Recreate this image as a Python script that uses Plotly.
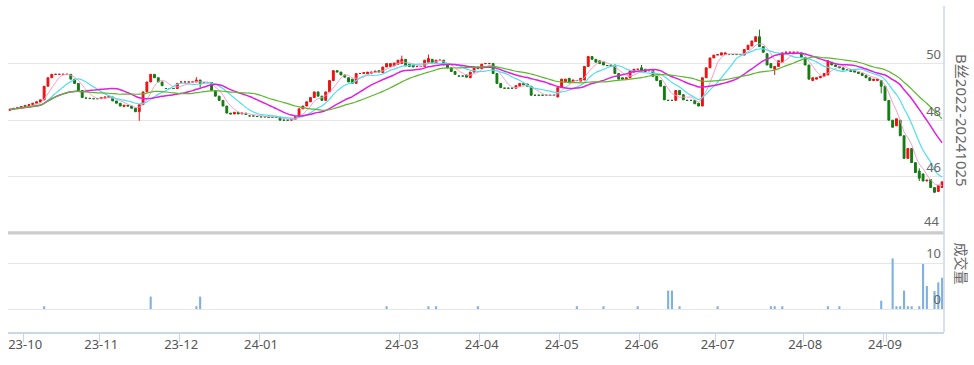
import pandas as pd
import plotly.graph_objects as go

# ---------------- data ----------------
months = ["2023-09", "2023-10", "2023-11", "2023-12", "2024-01", "2024-02", "2024-03",
          "2024-04", "2024-05", "2024-06", "2024-07", "2024-08", "2024-09"]
month_counts = [4, 20, 21, 21, 22, 15, 21, 21, 21, 20, 23, 21, 16]
tick_months = ["2023-10", "2023-11", "2023-12", "2024-01", "2024-03", "2024-04",
               "2024-05", "2024-06", "2024-07", "2024-08", "2024-09"]
tick_labels = ["23-10", "23-11", "23-12", "24-01", "24-03", "24-04",
               "24-05", "24-06", "24-07", "24-08", "24-09"]
price_ticks = [44, 46, 48, 50, 52]
price_tick_text = ["44", "46", "48", "50", ""]
volume_ticks = [0, 10, 20]
volume_tick_text = ["0", "10", ""]

opens = [
    48.35, 48.38, 48.40, 48.45, 48.47, 48.52, 48.55, 48.60, 48.64, 48.72,
    49.20, 49.50, 49.62, 49.62, 49.62, 49.62, 49.62, 49.45, 49.30, 49.05,
    48.78, 48.77, 48.76, 48.76, 48.76, 48.78, 48.80, 48.82, 48.68, 48.60,
    48.48, 48.53, 48.50, 48.42, 48.30, 48.55, 49.00, 49.35, 49.62, 49.50,
    49.35, 49.12, 49.12, 49.12, 49.12, 49.35, 49.35, 49.35, 49.35, 49.35,
    49.42, 49.33, 49.33, 49.33, 49.05, 48.85, 48.70, 48.50, 48.25, 48.22,
    48.28, 48.22, 48.25, 48.15, 48.15, 48.13, 48.12, 48.12, 48.10, 48.10,
    48.10, 48.10, 48.00, 48.00, 48.00, 48.03, 48.12, 48.40, 48.50, 48.65,
    48.80, 49.00, 48.85, 48.70, 49.00, 49.40, 49.75, 49.70, 49.60, 49.50,
    49.45, 49.30, 49.65, 49.65, 49.64, 49.66, 49.70, 49.75, 49.68, 49.88,
    49.90, 49.92, 49.98, 50.00, 50.15, 49.98, 49.95, 49.90, 49.90, 49.90,
    50.05, 50.15, 50.02, 50.12, 50.12, 49.98, 49.85, 49.72, 49.56, 49.56,
    49.60, 49.50, 49.70, 49.88, 49.82, 50.00, 50.00, 50.00, 49.65, 49.30,
    49.13, 49.13, 49.13, 49.13, 49.20, 49.30, 49.28, 49.20, 48.88, 48.88,
    48.88, 48.88, 48.88, 48.88, 48.82, 49.15, 49.35, 49.48, 49.35, 49.40,
    49.38, 49.42, 49.90, 50.25, 50.15, 50.10, 50.05, 49.93, 49.95, 49.95,
    49.65, 49.50, 49.45, 49.50, 49.70, 49.80, 49.85, 49.80, 49.75, 49.75,
    49.55, 49.40, 49.20, 48.70, 48.70, 48.70, 49.05, 48.90, 48.70, 48.70,
    48.70, 48.60, 48.50, 49.50, 49.85, 50.20, 50.30, 50.30, 50.32, 50.32,
    50.32, 50.32, 50.32, 50.30, 50.50, 50.62, 50.78, 50.95, 50.60, 50.35,
    50.00, 49.80, 49.90, 50.05, 50.40, 50.40, 50.40, 50.40, 50.38, 50.22,
    49.95, 49.40, 49.45, 49.50, 49.55, 49.60, 50.05, 49.95, 49.90, 49.85,
    49.77, 49.78, 49.75, 49.70, 49.65, 49.58, 49.50, 49.40, 49.40, 49.40,
    49.20, 48.70, 48.00, 47.80, 48.00, 47.45, 46.65, 47.00, 46.50, 46.20,
    46.10, 45.85, 45.90, 45.62, 45.48, 45.62,
]
closes = [
    48.38, 48.42, 48.45, 48.48, 48.52, 48.55, 48.60, 48.65, 48.72, 49.20,
    49.50, 49.62, 49.62, 49.62, 49.62, 49.62, 49.45, 49.30, 49.05, 48.80,
    48.78, 48.77, 48.76, 48.76, 48.80, 48.82, 48.84, 48.68, 48.60, 48.50,
    48.53, 48.50, 48.42, 48.30, 48.55, 49.00, 49.35, 49.62, 49.50, 49.35,
    49.22, 49.12, 49.12, 49.12, 49.30, 49.35, 49.35, 49.35, 49.35, 49.42,
    49.30, 49.33, 49.33, 49.05, 48.85, 48.70, 48.50, 48.25, 48.22, 48.28,
    48.22, 48.25, 48.20, 48.15, 48.15, 48.13, 48.12, 48.12, 48.10, 48.10,
    48.10, 48.00, 48.00, 48.00, 48.03, 48.12, 48.40, 48.50, 48.65, 48.80,
    49.00, 48.85, 48.70, 49.00, 49.40, 49.75, 49.70, 49.60, 49.52, 49.35,
    49.30, 49.65, 49.65, 49.68, 49.70, 49.70, 49.73, 49.70, 49.88, 50.00,
    50.00, 50.02, 50.12, 50.15, 49.92, 49.90, 49.88, 49.90, 49.90, 50.12,
    50.18, 50.00, 50.12, 50.12, 49.95, 49.85, 49.72, 49.62, 49.56, 49.56,
    49.52, 49.70, 49.88, 49.82, 49.98, 50.00, 50.00, 49.65, 49.30, 49.15,
    49.13, 49.13, 49.13, 49.22, 49.30, 49.25, 49.20, 48.88, 48.88, 48.88,
    48.88, 48.88, 48.88, 48.88, 49.15, 49.45, 49.45, 49.32, 49.42, 49.40,
    49.48, 49.90, 50.25, 50.15, 50.05, 50.00, 49.95, 49.93, 49.90, 49.65,
    49.45, 49.45, 49.50, 49.75, 49.80, 49.80, 49.75, 49.72, 49.75, 49.55,
    49.40, 49.20, 48.72, 48.70, 48.70, 49.05, 48.90, 48.72, 48.70, 48.70,
    48.58, 48.50, 49.50, 49.85, 50.20, 50.30, 50.32, 50.38, 50.38, 50.32,
    50.32, 50.32, 50.32, 50.50, 50.65, 50.80, 50.95, 50.60, 50.40, 49.95,
    49.85, 49.90, 50.10, 50.38, 50.40, 50.40, 50.40, 50.40, 50.22, 49.95,
    49.45, 49.50, 49.50, 49.55, 49.65, 50.10, 49.95, 49.90, 49.85, 49.78,
    49.77, 49.72, 49.70, 49.65, 49.58, 49.50, 49.40, 49.45, 49.45, 49.20,
    48.70, 48.00, 47.75, 48.05, 47.45, 46.65, 47.00, 46.50, 46.15, 45.95,
    45.85, 45.88, 45.62, 45.45, 45.70, 45.82,
]
# visible wicks (index -> value)
wick_high = {49: 49.52, 103: 50.28, 110: 50.32, 166: 49.95, 197: 51.20, 239: 46.30}
wick_low = {34: 47.98, 50: 49.15, 201: 49.60, 229: 48.95, 239: 45.85}
# volume (index -> value), all other days 0
volume_values = {
    9: 0.6, 37: 2.7, 49: 0.6, 50: 2.7, 99: 0.6, 110: 0.6, 112: 0.6, 123: 0.6,
    149: 0.6, 156: 0.6, 165: 0.6, 173: 4.0, 174: 4.0, 176: 0.6, 186: 0.6,
    200: 0.6, 201: 0.6, 203: 0.6, 215: 0.6, 218: 0.6, 229: 1.8, 232: 11.0,
    233: 0.6, 234: 0.6, 235: 4.0, 236: 0.6, 237: 0.6, 239: 0.6, 240: 9.8,
    241: 5.0, 243: 3.9, 244: 5.8, 245: 6.8,
}
ma_windows = [5, 10, 20, 30]
ma_colors = ["#f29ac6", "#4fe0ee", "#e01fe0", "#5cb82c"]
ma_widths = [1, 1.2, 1.5, 1.2]

# ---------------- build ----------------
dates = []
for k, (m, n) in enumerate(zip(months, month_counts)):
    bd = pd.bdate_range(m + "-01", pd.Period(m).end_time.normalize())
    sel = bd[-n:] if k == 0 else bd[:n]
    dates += [d.strftime("%Y-%m-%d") for d in sel]

N = len(dates)
assert len(opens) == N and len(closes) == N, (len(opens), len(closes), N)

highs = [max(o, c) for o, c in zip(opens, closes)]
lows = [min(o, c) for o, c in zip(opens, closes)]
for i, v in wick_high.items():
    highs[i] = v
for i, v in wick_low.items():
    lows[i] = v
volume = [volume_values.get(i, 0) for i in range(N)]

first_of_month = {}
for d in dates:
    first_of_month.setdefault(d[:7], d)
tickvals = [first_of_month[m] for m in tick_months]

fig = go.Figure()
fig.add_trace(go.Candlestick(
    x=dates, open=opens, high=highs, low=lows, close=closes,
    increasing=dict(line=dict(color="#ee1111", width=1), fillcolor="#ee1111"),
    decreasing=dict(line=dict(color="#137a13", width=1), fillcolor="#137a13"),
    whiskerwidth=0, showlegend=False, xaxis="x", yaxis="y",
))
cs = pd.Series(closes)
for w, col, lw in zip(ma_windows, ma_colors, ma_widths):
    fig.add_trace(go.Scatter(
        x=dates, y=cs.rolling(w, min_periods=1).mean().round(3).tolist(),
        mode="lines", line=dict(color=col, width=lw, shape="spline", smoothing=0.6),
        showlegend=False, hoverinfo="skip", xaxis="x", yaxis="y",
    ))
fig.add_trace(go.Bar(
    x=dates, y=volume, marker=dict(color="#7fb0e2", line=dict(width=0)),
    showlegend=False, xaxis="x", yaxis="y2",
))

font_fam = "Noto Sans, Noto Sans CJK SC, sans-serif"
grid_col = "#e6e6e6"
axis_col = "#ccd6eb"

# the lowest price label sits on the axis edge, where plotly hides inside labels,
# so it is drawn as an annotation at the same data position
edge_label = dict(text=price_tick_text[0], xref="paper", yref="y", x=1, y=price_ticks[0],
                  xanchor="right", yanchor="bottom", xshift=-3, yshift=1,
                  showarrow=False, font=dict(size=13, color="#666666", family=font_fam))

fig.update_layout(
    width=974, height=365,
    margin=dict(l=8, r=30, t=7, b=33),
    paper_bgcolor="white", plot_bgcolor="white",
    font=dict(family=font_fam, size=13, color="#666666"),
    bargap=0.45,
    xaxis=dict(
        type="category", categoryorder="array", categoryarray=dates,
        anchor="y2", range=[-0.5, N - 0.5],
        rangeslider=dict(visible=False),
        showgrid=False, zeroline=False,
        showline=True, linecolor=axis_col, linewidth=1.5,
        ticks="outside", ticklen=8, tickcolor=axis_col, tickwidth=1,
        tickson="boundaries", tickangle=0,
        tickmode="array", tickvals=tickvals, ticktext=tick_labels,
        tickfont=dict(size=13, color="#555555"),
    ),
    yaxis=dict(
        domain=[97.5 / 325, 1], range=[43.96, 52], side="right",
        tickmode="array", tickvals=price_ticks[1:], ticktext=price_tick_text[1:],
        ticklabelposition="inside top",
        showgrid=True, gridcolor=grid_col, gridwidth=1,
        zeroline=False, showline=False, ticks="",
        tickfont=dict(size=13, color="#666666"),
    ),
    yaxis2=dict(
        domain=[0, 115 / 325], range=[-5, 20], side="right",
        tickmode="array", tickvals=volume_ticks, ticktext=volume_tick_text,
        ticklabelposition="inside top",
        showgrid=True, gridcolor=grid_col, gridwidth=1,
        zeroline=False, showline=False, ticks="",
        tickfont=dict(size=13, color="#666666"),
    ),
    shapes=[
        dict(type="line", xref="paper", yref="y", x0=0, x1=1, y0=44, y1=44,
             line=dict(color="#cccccc", width=4), layer="above"),
        dict(type="line", xref="paper", yref="paper", x0=1, x1=1, y0=0, y1=1.003,
             line=dict(color=axis_col, width=1.5), layer="above"),
    ],
    annotations=[
        dict(text="B丝2022-20241025", xref="paper", yref="paper", x=1, y=0.652,
             xshift=6, xanchor="left", yanchor="middle", textangle=90,
             showarrow=False, font=dict(size=15, color="#666666", family=font_fam)),
        dict(text="成交量", xref="paper", yref="paper", x=1, y=0.212,
             xshift=6, xanchor="left", yanchor="middle", textangle=90,
             showarrow=False, font=dict(size=14, color="#666666", family=font_fam)),
        edge_label,
    ],
)

fig.write_html(
    "out.html",
    config={"displayModeBar": False},
    post_script="document.body.style.margin='0';document.body.style.overflow='hidden';",
)
